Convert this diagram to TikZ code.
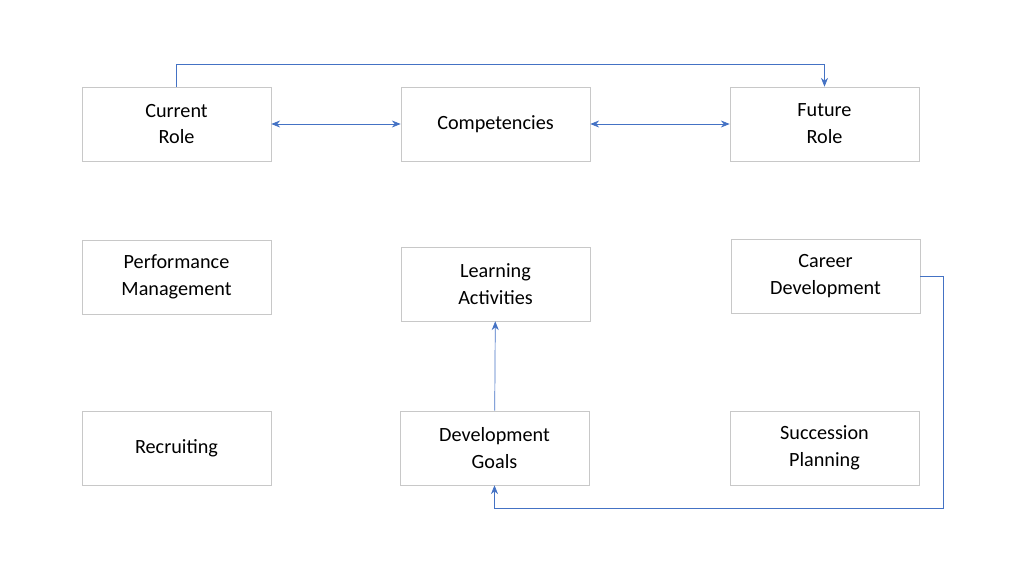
\documentclass[tikz,border=0pt]{standalone}
\usepackage{fontspec}
\setmainfont{Carlito}
\usetikzlibrary{arrows.meta}
\definecolor{linkblue}{RGB}{68,114,196}
\definecolor{boxgray}{RGB}{200,200,200}
\begin{document}
\begin{tikzpicture}[x=0.02cm,y=-0.02cm,
  topic/.style={draw=boxgray, minimum width=3.78cm, minimum height=1.48cm, align=center,
    font=\fontsize{11.5}{15.3}\selectfont},
  link/.style={linkblue, thin, -{Stealth[length=5pt,width=4pt]}},
  twolink/.style={linkblue, thin, {Stealth[length=5pt,width=4pt]}-{Stealth[length=5pt,width=4pt]}}]

  % Frame
  \useasboundingbox (0,0) rectangle (1025,571);

  % Top row
  \node[topic] (current) at (176.5,124) {Current\\Role};
  \node[topic] (comp) at (495.5,124) {Competencies};
  \node[topic] (future) at (824.5,124) {Future\\Role};

  % Middle row
  \node[topic] (perf) at (176.5,277) {Performance\\Management};
  \node[topic] (learn) at (495.5,284) {Learning\\Activities};
  \node[topic] (career) at (825.5,276) {Career\\Development};

  % Bottom row
  \node[topic] (recruit) at (176.5,448) {Recruiting};
  \node[topic] (goals) at (494.5,448) {Development\\Goals};
  \node[topic] (succ) at (824.5,448) {Succession\\Planning};

  % Connectors
  \draw[twolink] (current) -- (comp);
  \draw[twolink] (comp) -- (future);
  \draw[link] (current.north) |- (176.5,64) -| (future.north);
  \draw[link] (goals) -- (learn);
  \draw[link] (career.east) -| (943,508) -| (goals.south);

\end{tikzpicture}
\end{document}
